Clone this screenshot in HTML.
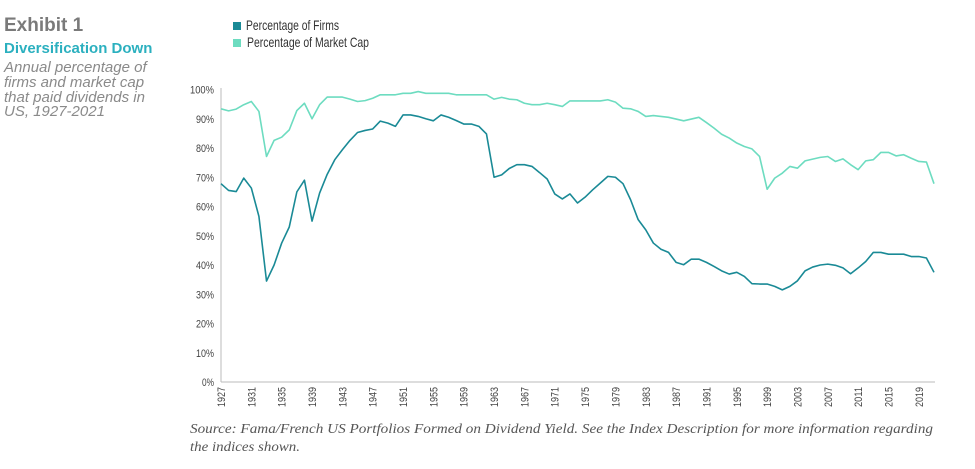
<!DOCTYPE html>
<html><head><meta charset="utf-8"><style>
body{margin:0;background:#fff;width:975px;height:469px;overflow:hidden;font-family:"Liberation Sans",sans-serif}
svg{position:absolute;left:0;top:0}
.ax{font-family:"Liberation Sans",sans-serif;font-size:11px;fill:#444}
</style></head><body>
<svg width="975" height="469">
<text x="4" y="31" font-size="19" font-weight="bold" fill="#7a7a7a">Exhibit 1</text>
<text x="4" y="53" font-size="15" font-weight="bold" fill="#2bb0bf">Diversification Down</text>
<g font-size="15" font-style="italic" fill="#8a8a8a">
<text x="4" y="72">Annual percentage of</text><text x="4" y="87">firms and market cap</text>
<text x="4" y="102">that paid dividends in</text><text x="4" y="116">US, 1927-2021</text></g>
<g>
<rect x="233" y="22" width="8" height="8" fill="#1a8a96"/>
<text x="246" y="30" font-size="14" fill="#333" textLength="93" lengthAdjust="spacingAndGlyphs">Percentage of Firms</text>
<rect x="233" y="39" width="8" height="8" fill="#6ddcc0"/>
<text x="247" y="47" font-size="14" fill="#333" textLength="122" lengthAdjust="spacingAndGlyphs">Percentage of Market Cap</text>
</g>
<g id="axes"></g>
<g id="plot"></g>
<g font-family="'Liberation Serif',serif" font-style="italic" font-size="14" fill="#555">
<text x="190" y="433" textLength="743" lengthAdjust="spacingAndGlyphs">Source: Fama/French US Portfolios Formed on Dividend Yield. See the Index Description for more information regarding</text>
<text x="190" y="451" textLength="110" lengthAdjust="spacingAndGlyphs">the indices shown.</text></g>
</svg>
<script>
const years=[];for(let y=1927;y<=2021;y++)years.push(y);
const firms=[67.8,65.5,65.1,69.7,66.3,56.6,34.5,40,47.5,53,65,69,55,64.6,71,76,79.4,82.6,85.3,86,86.5,89.2,88.5,87.4,91.3,91.3,90.8,90,89.3,91.3,90.5,89.4,88.2,88.2,87.4,84.8,70,70.8,73,74.3,74.3,73.7,71.6,69.4,64.3,62.6,64.3,61.2,63.2,65.7,68,70.3,70,67.8,62.3,55.5,52,47.5,45.4,44.3,40.9,40.1,42,42,40.9,39.5,38,36.9,37.5,36.1,33.6,33.5,33.5,32.7,31.5,32.7,34.6,38,39.3,40,40.3,39.9,39,37,39,41.2,44.3,44.3,43.7,43.7,43.7,42.9,42.9,42.4,37.5];
const mcap=[93.4,92.7,93.3,94.8,95.9,92.5,77.1,82.6,83.7,86.2,92.8,95.3,90,94.8,97.4,97.4,97.4,96.7,95.9,96.2,97,98.2,98.2,98.2,98.7,98.7,99.3,98.7,98.7,98.7,98.7,98.2,98.2,98.2,98.2,98.2,96.7,97.3,96.7,96.5,95.3,94.8,94.8,95.3,94.8,94.2,96.1,96.1,96.1,96.1,96.1,96.5,95.7,93.6,93.4,92.5,90.8,91.1,90.8,90.5,89.9,89.3,89.9,90.5,88.7,86.8,84.7,83.4,81.7,80.5,79.7,77.1,65.9,69.7,71.4,73.7,73.1,75.6,76.2,76.8,77.1,75.4,76.3,74.3,72.6,75.6,76,78.5,78.5,77.3,77.7,76.5,75.4,75.2,67.8,67.1];
const yTicks=[0,10,20,30,40,50,60,70,80,90,100];
const xTickYears=[1927,1931,1935,1939,1943,1947,1951,1955,1959,1963,1967,1971,1975,1979,1983,1987,1991,1995,1999,2003,2007,2011,2015,2019];
const X=y=>221+(y-1927)*(713/94);
const Y=v=>382-v*2.925;
const NS='http://www.w3.org/2000/svg';
function mk(t,a,p){const e=document.createElementNS(NS,t);for(const k in a)e.setAttribute(k,a[k]);p.appendChild(e);return e;}
const ax=document.getElementById('axes'),pl=document.getElementById('plot');
const yl=mk('line',{x1:221,x2:221,y1:88,y2:382,stroke:'#bbb'},ax);


const xl=mk('line',{x1:221,x2:935,y1:382,y2:382,stroke:'#bbb'},ax);


yTicks.forEach(v=>{const s=v+'%';const t=mk('text',{x:214,y:Y(v)+4,'text-anchor':'end',class:'ax',textLength:s.length*6,lengthAdjust:'spacingAndGlyphs'},ax);t.textContent=s;

});
xTickYears.forEach(yr=>{const t=mk('text',{x:0,y:0,'text-anchor':'end',class:'ax',textLength:20,lengthAdjust:'spacingAndGlyphs',transform:`translate(${X(yr)+4},387) rotate(-90)`},ax);t.textContent=yr;

});
function line(d,c,n){const p=mk('polyline',{points:d.map((v,i)=>X(years[i])+','+Y(v)).join(' '),fill:'none',stroke:c,'stroke-width':1.6,'stroke-linejoin':'round'},pl);

}
line(mcap,'#6ddcc0','market-cap-line');
line(firms,'#1a8a96','firms-line');
</script>
</body></html>
